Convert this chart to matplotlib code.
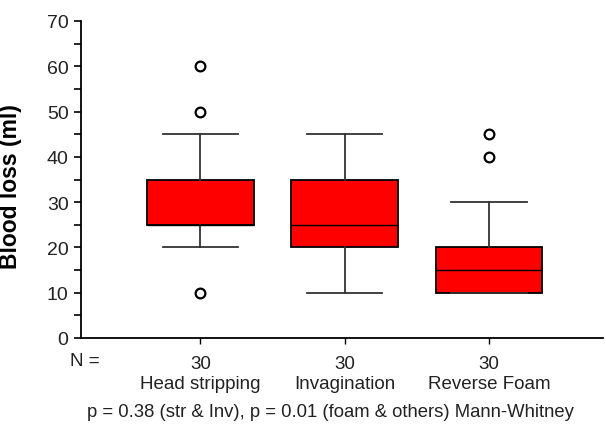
import matplotlib.pyplot as plt
from matplotlib.ticker import MultipleLocator

plt.rcParams['font.family'] = ['Liberation Sans', 'DejaVu Sans']

groups = ["Head stripping", "Invagination", "Reverse Foam"]
counts = [30, 30, 30]
whisker_low = [20, 10, 10]
q1 = [25, 20, 10]
medians = [25, 25, 15]
q3 = [35, 35, 20]
whisker_high = [45, 45, 30]
outliers = [[10, 50, 60], [], [40, 45]]

stats = []
for i, name in enumerate(groups):
    stats.append({
        "label": name,
        "whislo": whisker_low[i],
        "q1": q1[i],
        "med": medians[i],
        "q3": q3[i],
        "whishi": whisker_high[i],
        "fliers": outliers[i],
    })

fig = plt.figure(figsize=(6.06, 4.27), dpi=100)
ax = fig.add_axes([81 / 606, 1 - 339 / 427, (603 - 81) / 606, (339 - 22) / 427])

ax.bxp(stats, positions=[1, 2, 3], widths=0.74, capwidths=0.52, patch_artist=True,
       boxprops=dict(facecolor="#ff0000", edgecolor="black", linewidth=1.3),
       medianprops=dict(color="black", linewidth=1.0),
       whiskerprops=dict(color="#333333", linewidth=1.3),
       capprops=dict(color="#333333", linewidth=1.3),
       flierprops=dict(marker="o", markerfacecolor="white", markeredgecolor="black",
                       markersize=7, markeredgewidth=1.6))

ax.set_xlim(0.173, 3.79)
ax.set_ylim(0, 70)
ax.yaxis.set_major_locator(MultipleLocator(10))
ax.yaxis.set_minor_locator(MultipleLocator(5))
ax.tick_params(axis="y", which="both", direction="out", length=5, width=1.2,
               labelsize=14, labelcolor="#222222", pad=4)
ax.tick_params(axis="x", length=4, width=1.0, labelsize=13.5, labelcolor="#222222", pad=8)
ax.set_xticks([1, 2, 3])
ax.set_xticklabels([f"{n}\n{g}" for n, g in zip(counts, groups)], linespacing=1.25)

for side in ["top", "right"]:
    ax.spines[side].set_visible(False)
ax.spines["left"].set_linewidth(1.3)
ax.spines["bottom"].set_linewidth(1.3)

ax.set_ylabel("Blood loss (ml)", fontsize=16.5, fontweight="bold")
ax.yaxis.set_label_coords(-59 / 522, 0.48)
fig.text(70 / 606, 1 - 362 / 427, "N =", fontsize=13.5, color="#222222", va="center")
fig.text(330 / 606, 1 - 413 / 427,
         "p = 0.38 (str & Inv), p = 0.01 (foam & others) Mann-Whitney",
         fontsize=13.3, color="#222222", ha="center", va="center")

fig.savefig("out.png", dpi=100)
